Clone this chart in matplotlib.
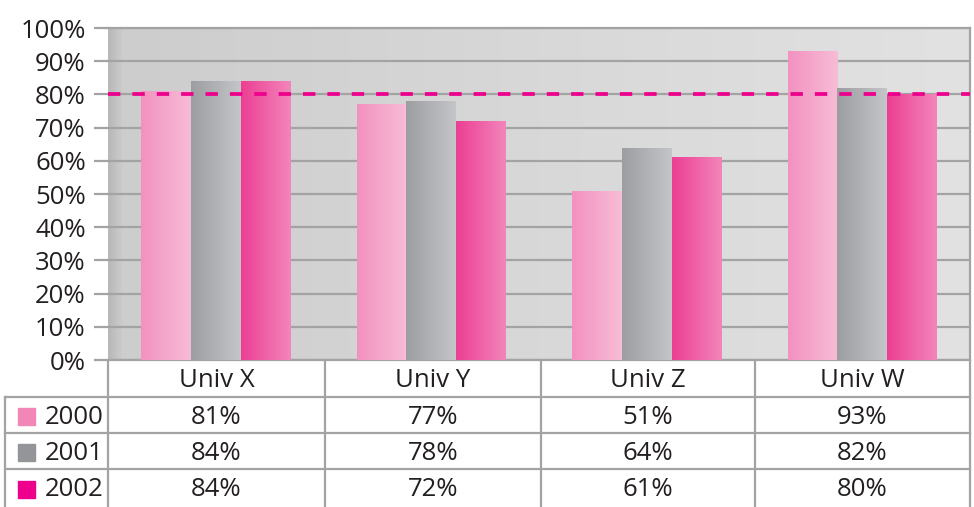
import numpy as np
import matplotlib.pyplot as plt
from matplotlib.colors import LinearSegmentedColormap
from matplotlib.patches import Rectangle

categories = ["Univ X", "Univ Y", "Univ Z", "Univ W"]
years = ["2000", "2001", "2002"]
v2000 = [81, 77, 51, 93]
v2001 = [84, 78, 64, 82]
v2002 = [84, 72, 61, 80]
target = 80

series = [v2000, v2001, v2002]
swatch = ["#f287b7", "#939598", "#ec008c"]
grads = [("#f392bf", "#f7bcd6"), ("#9c9ea2", "#c3c5c8"), ("#ec3f93", "#f385ba")]

plt.rcParams['font.family'] = ['Open Sans', 'DejaVu Sans']
W, H = 974, 507
fs = 18.5
fig = plt.figure(figsize=(W / 100, H / 100), dpi=100)

px = lambda x: x / W
py = lambda y: 1 - y / H

# chart area
ax = fig.add_axes([px(108), py(360), px(970) - px(108), py(28) - py(360)])
ax.set_xlim(0, 4)
ax.set_ylim(0, 100)

bg = LinearSegmentedColormap.from_list(
    "bg", [(0, "#b9b9b9"), (0.015, "#cdcdcd"), (0.5, "#d8d8d8"), (1, "#e2e2e2")])
ax.imshow(np.linspace(0, 1, 512).reshape(1, -1), cmap=bg, aspect="auto",
          extent=[0, 4, 0, 100], zorder=0)

for t in range(0, 101, 10):
    ax.axhline(t, color="#a3a3a3", lw=1.6, zorder=1)

bw = 0.23
x = np.arange(len(categories)) + 0.5
for i, vals in enumerate(series):
    cmap = LinearSegmentedColormap.from_list("g%d" % i, grads[i])
    bars = ax.bar(x + (i - 1) * bw, vals, bw, color=grads[i][0], zorder=2,
                  linewidth=0)
    for b in bars:
        im = ax.imshow(np.linspace(0, 1, 64).reshape(1, -1), cmap=cmap,
                       aspect="auto", zorder=3,
                       extent=[b.get_x(), b.get_x() + b.get_width(), 0, b.get_height()])
        im.set_clip_path(b)

ax.axhline(target, color="#ec008c", lw=2.7, ls=(0, (3.3, 3.2)), zorder=4)
ax.set_xlim(0, 4)
ax.set_ylim(0, 100)

ax.set_xticks([])
ax.set_yticks(range(0, 101, 10))
ax.set_yticklabels([f"{t}%" for t in range(0, 101, 10)], fontsize=fs, color="#231f20")
ax.tick_params(axis="y", length=10, width=1.6, color="#a3a3a3", pad=6)
for s in ["top", "right", "bottom"]:
    ax.spines[s].set_color("#a3a3a3")
    ax.spines[s].set_linewidth(1.6)
ax.spines["left"].set_visible(False)

# data table below the chart
tb = fig.add_axes([0, 0, 1, py(360)])
tb.set_xlim(0, W)
tb.set_ylim(H, 360)
tb.axis("off")
lc = "#a3a3a3"
col_edges = [108, 325, 541, 755, 970]
row_edges = [360, 397, 433, 469, 507]
for xe in col_edges:
    tb.plot([xe, xe], [360, 507], color=lc, lw=1.6)
tb.plot([5, 5], [397, 507], color=lc, lw=1.6)
for ye in row_edges[1:-1]:
    tb.plot([5, 970], [ye, ye], color=lc, lw=1.6)

for j, c in enumerate(categories):
    cx = (col_edges[j] + col_edges[j + 1]) / 2
    tb.text(cx, 381, c, ha="center", va="center", fontsize=fs, color="#231f20")
    for i, vals in enumerate(series):
        cy = (row_edges[i + 1] + row_edges[i + 2]) / 2
        tb.text(cx, cy + 2, f"{vals[j]}%", ha="center", va="center",
                fontsize=fs, color="#231f20")

for i, yr in enumerate(years):
    cy = (row_edges[i + 1] + row_edges[i + 2]) / 2
    tb.add_patch(Rectangle((18, cy - 7), 17, 17, color=swatch[i]))
    tb.text(45, cy + 2, yr, ha="left", va="center", fontsize=fs, color="#231f20")

fig.savefig("out.png", dpi=100)
